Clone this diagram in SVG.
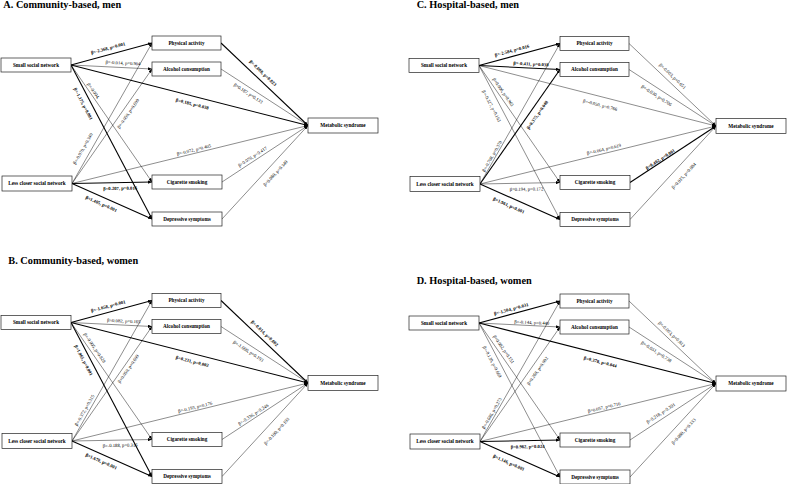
<svg xmlns="http://www.w3.org/2000/svg" width="787" height="484" viewBox="0 0 787 484">
<style>
.bg{fill:#fff}
.box{fill:#fff;stroke:#222;stroke-width:0.7}
.nt{font-family:"Liberation Serif","Times New Roman",serif;font-weight:bold;font-size:5.2px;text-anchor:middle;fill:#000}
.ttl{font-family:"Liberation Serif","Times New Roman",serif;font-weight:bold;font-size:10.3px;fill:#000}
.e{fill:none;stroke:#000;stroke-width:0.45;marker-end:url(#ah)}
.b{stroke-width:1.1}
.lb{font-family:"Liberation Serif","Times New Roman",serif;font-size:4.7px;text-anchor:middle;fill:#000}
.lbb{font-weight:bold}
</style>
<defs>
<marker id="ah" markerUnits="userSpaceOnUse" markerWidth="4" markerHeight="3.2" refX="4" refY="1.6" orient="auto">
<path d="M0,0 L4,1.6 L0,3.2 Z" fill="#000"/>
</marker>
</defs>
<rect class="bg" x="0" y="0" width="787" height="484"/>

<text class="ttl" x="3.3" y="8">A. Community-based, men</text>
<text class="ttl" x="416.7" y="8">C. Hospital-based, men</text>
<text class="ttl" x="8.3" y="264">B. Community-based, women</text>
<text class="ttl" x="416.7" y="283.5">D. Hospital-based, women</text>

<!-- Panel A -->
<g id="panelA">
<g id="A-connectors">
<path class="e b" d="M71,65 L152,43"/>
<path class="e" d="M71,65 L152,69"/>
<path class="e b" d="M71,65 L308,125.5"/>
<path class="e" d="M71,65 L152,182"/>
<path class="e b" d="M71,65 L152,219"/>
<path class="e" d="M72,183.5 L152,43"/>
<path class="e" d="M72,183.5 L152,69"/>
<path class="e" d="M72,183.5 L308,125.5"/>
<path class="e b" d="M72,183.5 L152,182"/>
<path class="e b" d="M72,183.5 L152,219"/>
<path class="e b" d="M221,43 L308,125.5"/>
<path class="e" d="M221,69 L308,125.5"/>
<path class="e" d="M222,182 L308,125.5"/>
<path class="e" d="M222,219 L308,125.5"/>
<text class="lb lbb" transform="translate(109.8,54.5) rotate(-15.2)" y="-5">β=-2.368, p=0.001</text>
<text class="lb" transform="translate(122.8,67.6) rotate(2.8)" y="-3">β=-0.014, p=0.904</text>
<text class="lb lbb" transform="translate(194.2,96.5) rotate(14.3)" y="9.3">β=0.185, p=0.038</text>
<text class="lb" transform="translate(90.4,93.1) rotate(55.3)" y="-2.3">β=-0.004,</text>
<text class="lb lbb" transform="translate(89.6,100.4) rotate(62.25)" y="8.9">β=-1.175, p=0.001</text>
<text class="lb" transform="translate(89.6,152.6) rotate(-60.3)" y="-6.2">β=-0.070, p=0.340</text>
<text class="lb" transform="translate(123.2,110.2) rotate(-55.1)" y="7.6">β=-0.050, p=0.609</text>
<text class="lb" transform="translate(194.7,153.3) rotate(-13.8)" y="-2">β=-0.072, p=0.405</text>
<text class="lb lbb" transform="translate(120,182.6) rotate(-1.1)" y="7.3">β=0.207, p=0.016</text>
<text class="lb lbb" transform="translate(104,197.7) rotate(23.9)" y="8.3">β=1.405, p=0.001</text>
<text class="lb lbb" transform="translate(258,78.1) rotate(43.5)" y="-5.5">β=-0.008, p=0.023</text>
<text class="lb" transform="translate(251.3,88.7) rotate(33)" y="7.1">β=0.187, p=0.133</text>
<text class="lb" transform="translate(254.9,160.4) rotate(-33.3)" y="-2.8">β=0.076, p=0.417</text>
<text class="lb" transform="translate(269.3,167.6) rotate(-47.4)" y="9.9">β=0.080, p=0.340</text>
</g>
<g id="A-small"><rect class="box" x="1" y="58" width="70" height="14"/><text class="nt" x="36" y="66.8">Small social network</text></g>
<g id="A-less"><rect class="box" x="2" y="176" width="70" height="15"/><text class="nt" x="37" y="185.3">Less closer social network</text></g>
<g id="A-pa"><rect class="box" x="152" y="36" width="69" height="14"/><text class="nt" x="186.5" y="44.8">Physical activity</text></g>
<g id="A-ac"><rect class="box" x="152" y="62" width="69" height="14"/><text class="nt" x="186.5" y="70.8">Alcohol consumption</text></g>
<g id="A-cs"><rect class="box" x="152" y="175" width="70" height="14"/><text class="nt" x="187" y="183.8">Cigarette smoking</text></g>
<g id="A-ds"><rect class="box" x="152" y="212" width="70" height="14"/><text class="nt" x="187" y="220.8">Depressive symptoms</text></g>
<g id="A-ms"><rect class="box" x="308" y="118" width="70" height="15"/><text class="nt" x="343" y="127.3">Metabolic syndrome</text></g>
</g>

<!-- Panel C -->
<g id="panelC" transform="translate(408,0.5)">
<g id="C-connectors">
<path class="e b" d="M71,65 L152,43"/>
<path class="e b" d="M71,65 L152,69"/>
<path class="e" d="M71,65 L308,125.5"/>
<path class="e" d="M71,65 L152,182"/>
<path class="e" d="M71,65 L152,219"/>
<path class="e" d="M72,183.5 L152,43"/>
<path class="e b" d="M72,183.5 L152,69"/>
<path class="e" d="M72,183.5 L308,125.5"/>
<path class="e" d="M72,183.5 L152,182"/>
<path class="e b" d="M72,183.5 L152,219"/>
<path class="e" d="M221,43 L308,125.5"/>
<path class="e" d="M221,69 L308,125.5"/>
<path class="e b" d="M222,182 L308,125.5"/>
<path class="e" d="M222,219 L308,125.5"/>
<text class="lb lbb" transform="translate(105.5,55.6) rotate(-15.2)" y="-4.2">β=-2.584, p=0.016</text>
<text class="lb lbb" transform="translate(122.8,67.6) rotate(2.8)" y="-2.5">β=-0.411, p=0.038</text>
<text class="lb" transform="translate(194.2,96.5) rotate(14.3)" y="10">β=-0.050, p=0.766</text>
<text class="lb" transform="translate(91.3,94.3) rotate(55.3)" y="-3.2">β=0.006, p=0.963</text>
<text class="lb" transform="translate(90.4,102) rotate(62.25)" y="9.3">β=-0.327, p=0.163</text>
<text class="lb" transform="translate(86.9,157.4) rotate(-60.3)" y="-1.7">β=-0.708, p=0.378</text>
<text class="lb lbb" transform="translate(123.2,110.2) rotate(-55.1)" y="9">β=0.375, p=0.048</text>
<text class="lb" transform="translate(197,152.8) rotate(-13.8)" y="-2.7">β=-0.064, p=0.619</text>
<text class="lb" transform="translate(118.4,182.6) rotate(-1.1)" y="7.6">β=0.194, p=0.172</text>
<text class="lb lbb" transform="translate(104,197.7) rotate(23.9)" y="9.5">β=1.961, p=0.001</text>
<text class="lb" transform="translate(260.2,80.1) rotate(43.5)" y="-4.7">β=-0.003, p=0.651</text>
<text class="lb" transform="translate(252.3,89.3) rotate(33)" y="8.4">β=-0.030, p=0.706</text>
<text class="lb lbb" transform="translate(253.8,161.1) rotate(-33.3)" y="-1.2">β=0.402, p=0.001</text>
<text class="lb" transform="translate(268.4,168.5) rotate(-47.4)" y="11.6">β=0.015, p=0.084</text>
</g>
<g id="C-small"><rect class="box" x="1" y="58" width="70" height="14"/><text class="nt" x="36" y="66.8">Small social network</text></g>
<g id="C-less"><rect class="box" x="2" y="176" width="70" height="15"/><text class="nt" x="37" y="185.3">Less closer social network</text></g>
<g id="C-pa"><rect class="box" x="152" y="36" width="69" height="14"/><text class="nt" x="186.5" y="44.8">Physical activity</text></g>
<g id="C-ac"><rect class="box" x="152" y="62" width="69" height="14"/><text class="nt" x="186.5" y="70.8">Alcohol consumption</text></g>
<g id="C-cs"><rect class="box" x="152" y="175" width="70" height="14"/><text class="nt" x="187" y="183.8">Cigarette smoking</text></g>
<g id="C-ds"><rect class="box" x="152" y="212" width="70" height="14"/><text class="nt" x="187" y="220.8">Depressive symptoms</text></g>
<g id="C-ms"><rect class="box" x="308" y="118" width="70" height="15"/><text class="nt" x="343" y="127.3">Metabolic syndrome</text></g>
</g>

<!-- Panel B -->
<g id="panelB" transform="translate(0,257.5)">
<g id="B-connectors">
<path class="e b" d="M71,65 L152,43"/>
<path class="e" d="M71,65 L152,69"/>
<path class="e b" d="M71,65 L308,125.5"/>
<path class="e" d="M71,65 L152,182"/>
<path class="e b" d="M71,65 L152,219"/>
<path class="e" d="M72,183.5 L152,43"/>
<path class="e" d="M72,183.5 L152,69"/>
<path class="e" d="M72,183.5 L308,125.5"/>
<path class="e" d="M72,183.5 L152,182"/>
<path class="e b" d="M72,183.5 L152,219"/>
<path class="e b" d="M221,43 L308,125.5"/>
<path class="e" d="M221,69 L308,125.5"/>
<path class="e" d="M222,182 L308,125.5"/>
<path class="e" d="M222,219 L308,125.5"/>
<text class="lb lbb" transform="translate(109.8,54.5) rotate(-15.2)" y="-4.5">β=-1.658, p=0.001</text>
<text class="lb" transform="translate(123.6,67.6) rotate(2.8)" y="-2.5">β=0.082, p=0.165</text>
<text class="lb lbb" transform="translate(194.2,96.5) rotate(14.3)" y="9.3">β=0.231, p=0.002</text>
<text class="lb" transform="translate(90.5,93.2) rotate(55.3)" y="-3.5">β=-0.005, p=0.828</text>
<text class="lb lbb" transform="translate(89.3,99.8) rotate(62.25)" y="8">β=1.065, p=0.001</text>
<text class="lb" transform="translate(88.2,155) rotate(-60.3)" y="-2.7">β=-0.372, p=0.315</text>
<text class="lb" transform="translate(124.4,108.5) rotate(-55.1)" y="6.4">β=0.050, p=0.609</text>
<text class="lb" transform="translate(195.9,153.1) rotate(-13.8)" y="-2">β=-0.193, p=0.176</text>
<text class="lb" transform="translate(120,182.6) rotate(-1.1)" y="6.8">β=-0.188, p=0.316</text>
<text class="lb lbb" transform="translate(104,197.7) rotate(23.9)" y="8.3">β=1.670, p=0.001</text>
<text class="lb lbb" transform="translate(260.3,80.3) rotate(43.5)" y="-4.7">β=-0.014, p=0.002</text>
<text class="lb" transform="translate(251.5,88.8) rotate(33)" y="7.4">β=-1.000, p=0.193</text>
<text class="lb" transform="translate(255.4,160.1) rotate(-33.3)" y="-2.2">β=-0.336, p=0.246</text>
<text class="lb" transform="translate(269.6,167.2) rotate(-47.4)" y="11.2">β=-0.100, p=0.193</text>
</g>
<g id="B-small"><rect class="box" x="1" y="58" width="70" height="14"/><text class="nt" x="36" y="66.8">Small social network</text></g>
<g id="B-less"><rect class="box" x="2" y="176" width="70" height="15"/><text class="nt" x="37" y="185.3">Less closer social network</text></g>
<g id="B-pa"><rect class="box" x="152" y="36" width="69" height="14"/><text class="nt" x="186.5" y="44.8">Physical activity</text></g>
<g id="B-ac"><rect class="box" x="152" y="62" width="69" height="14"/><text class="nt" x="186.5" y="70.8">Alcohol consumption</text></g>
<g id="B-cs"><rect class="box" x="152" y="175" width="70" height="14"/><text class="nt" x="187" y="183.8">Cigarette smoking</text></g>
<g id="B-ds"><rect class="box" x="152" y="212" width="70" height="14"/><text class="nt" x="187" y="220.8">Depressive symptoms</text></g>
<g id="B-ms"><rect class="box" x="308" y="118" width="70" height="15"/><text class="nt" x="343" y="127.3">Metabolic syndrome</text></g>
</g>

<!-- Panel D -->
<g id="panelD" transform="translate(408,258)">
<g id="D-connectors">
<path class="e b" d="M71,65 L152,43"/>
<path class="e" d="M71,65 L152,69"/>
<path class="e b" d="M71,65 L308,125.5"/>
<path class="e" d="M71,65 L152,182"/>
<path class="e" d="M71,65 L152,219"/>
<path class="e" d="M72,183.5 L152,43"/>
<path class="e" d="M72,183.5 L152,69"/>
<path class="e" d="M72,183.5 L308,125.5"/>
<path class="e b" d="M72,183.5 L152,182"/>
<path class="e b" d="M72,183.5 L152,219"/>
<path class="e" d="M221,43 L308,125.5"/>
<path class="e" d="M221,69 L308,125.5"/>
<path class="e" d="M222,182 L308,125.5"/>
<path class="e" d="M222,219 L308,125.5"/>
<text class="lb lbb" transform="translate(104.5,55.9) rotate(-15.2)" y="-3.5">β=-1.504, p=0.031</text>
<text class="lb" transform="translate(123.6,67.6) rotate(2.8)" y="-1.5">β=-0.144, p=0.440</text>
<text class="lb lbb" transform="translate(194.2,96.5) rotate(14.3)" y="9.3">β=0.378, p=0.044</text>
<text class="lb" transform="translate(91.3,94.3) rotate(55.3)" y="-3.8">β=0.082, p=0.151</text>
<text class="lb" transform="translate(89.8,100.7) rotate(62.25)" y="7.9">β=-0.130, p=0.669</text>
<text class="lb" transform="translate(87,157.1) rotate(-60.3)" y="-2">β=-0.686, p=0.273</text>
<text class="lb" transform="translate(124,109.1) rotate(-55.1)" y="8.2">β=0.268, p=0.092</text>
<text class="lb" transform="translate(197,152.8) rotate(-13.8)" y="-2">β=0.057, p=0.716</text>
<text class="lb lbb" transform="translate(119.5,182.6) rotate(-1.1)" y="7.6">β=0.962, p=0.024</text>
<text class="lb lbb" transform="translate(104,197.7) rotate(23.9)" y="9.3">β=1.146, p=0.001</text>
<text class="lb" transform="translate(260,80) rotate(43.5)" y="-3.8">β=-0.003, p=0.813</text>
<text class="lb" transform="translate(251.5,88.8) rotate(33)" y="7.4">β=-0.051, p=0.738</text>
<text class="lb" transform="translate(255.8,159.8) rotate(-33.3)" y="-3.8">β=0.218, p=0.391</text>
<text class="lb" transform="translate(269.3,167.6) rotate(-47.4)" y="10.1">β=0.080, p=0.333</text>
</g>
<g id="D-small"><rect class="box" x="1" y="58" width="70" height="14"/><text class="nt" x="36" y="66.8">Small social network</text></g>
<g id="D-less"><rect class="box" x="2" y="176" width="70" height="15"/><text class="nt" x="37" y="185.3">Less closer social network</text></g>
<g id="D-pa"><rect class="box" x="152" y="36" width="69" height="14"/><text class="nt" x="186.5" y="44.8">Physical activity</text></g>
<g id="D-ac"><rect class="box" x="152" y="62" width="69" height="14"/><text class="nt" x="186.5" y="70.8">Alcohol consumption</text></g>
<g id="D-cs"><rect class="box" x="152" y="175" width="70" height="14"/><text class="nt" x="187" y="183.8">Cigarette smoking</text></g>
<g id="D-ds"><rect class="box" x="152" y="212" width="70" height="14"/><text class="nt" x="187" y="220.8">Depressive symptoms</text></g>
<g id="D-ms"><rect class="box" x="308" y="118" width="70" height="15"/><text class="nt" x="343" y="127.3">Metabolic syndrome</text></g>
</g>
</svg>
